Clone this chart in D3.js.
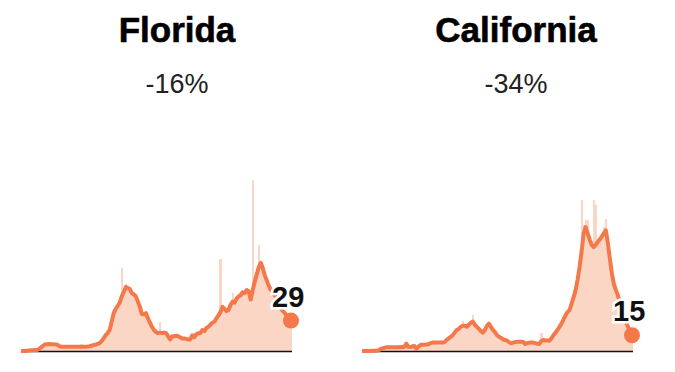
<!DOCTYPE html>
<html>
<head>
<meta charset="utf-8">
<script src="https://cdn.jsdelivr.net/npm/d3@7"></script>
<style>
  body { margin: 0; background: #fff; }
  svg { display: block; font-family: "Liberation Sans", Arial, sans-serif; }
</style>
</head>
<body>
<div id="chart"></div>
<script>
// states shown, with the change label and the last value
var states = ["Florida", "California"];
var changeLabels = ["-16%", "-34%"];
var lastLabels = ["29", "15"];

// daily cases per 100k (pale bars)
var floridaDaily = [
  0,0,0,0,0,1,1,1,1,2,3,5,6,7,6,7,6,6,5,4,4,4,5,4,3,4,4,5,4,4,4,5,4,4,5,
  5,6,6,7,8,10,12,15,18,21,30,38,42,45,48,
  79,55,64,62,58,57,53,54,46,42,33,37,36,30,26,22,20,18,16,28,
  17,19,16,14,10,15,13,15,14,12,12,13,11,12,10,16,12,17,18,16,
  22,18,23,24,26,28,30,32,33,88,44,40,37,41,46,55,45,52,55,52,
  58,54,60,58,48,163,68,76,101,86,80,70,66,62,58,57,52,50,44,42,37,36,32,30,28
];
// 7-day average (orange line)
var floridaAvg = [
  0,0,0,0.3,0.5,0.7,0.8,1,1,2,3.5,5,6.4,6.5,6.6,6.4,6.5,6.3,6,4.5,
  4,4,4,4,4,4,4,4,4,4,4.2,4.1,4,4.2,4.5,
  5,5.7,6,6.8,7.5,9.5,12,15,17,20,28,36,40,43,46,
  52,56,61,60,59,55,54,52,47,42,35,35,36,31,27,23,20,18,17,17.5,
  17,17.5,17,14,11,14,14,14.5,14,13,12,12,11.5,11,11,15,13,16,17,17,
  20,19,22,23,25,27,28,31,34,37,42,40,38,39,44,47,46,50,52,53,
  56,55,58,57,49,58,66,73,80,84,79,72,67,62,58,56,53,50,45,41,38,36,33,31,29
];

var californiaDaily = [
  0,0,0,0,0,0,0,1,1,2,3,3,4,3,4,4,3,4,4,3,4,4,9,4,4,5,5,2,4,6,6,7,6,7,8,
  8,9,8,8,9,8,8,9,11,13,14,16,19,22,22,29,25,24,26,28,
  34,26,24,21,19,18,22,25,28,22,20,18,15,13,13,11,11,10,9,8,
  9,8,9,9,10,9,7,8,8,9,8,8,7,7,17,11,10,11,10,13,
  16,18,21,24,27,32,36,38,42,48,54,62,72,86,144,120,125,125,110,105,
  144,139,108,110,112,118,126,106,90,76,66,60,55,48,41,35,30,25,20,16
];
var californiaAvg = [
  0,0,0,0,0,0.2,0.3,0.3,0.5,1.6,2.5,3,3.5,3.5,3.6,3.5,3.6,3.5,3.6,3.7,
  3.6,4,7,4,3.8,4.5,4.8,2,4,5.7,6,6,6.2,6.4,7.5,
  8,8,8,8.2,8,8,8.5,10.5,12,13.5,15,17.5,20,21,23,
  24,24,23,25,27,28,25,23,21,19,17.5,20,24,26,23,20,18,15,13.6,12.5,
  11,10.5,9.8,8.5,7.3,8,8.5,8.7,8.8,8.9,8.5,6.7,7.5,7.8,8,8,7.5,7,6.7,9.5,
  10.5,10,10,9.8,12,15,17.4,20,23,26,30,34,37,39,45,51,58,68,80,95,
  112,118,112,106,101,99,101,104,106,109,112,115,103,88,74,64,58,53,46,39,33,28,23,19,15
];

var dailySeries = [floridaDaily, californiaDaily];
var avgSeries = [floridaAvg, californiaAvg];

var W = 675, H = 372;
var lineColor = "#f4784a";
var barColor = "#fcd6c5";

// where each small panel sits
var panelLeft = [21, 362];
var titleX = [177, 516];
var plotW = 270;
var baseY = 351;

var svg = d3.select("#chart").append("svg")
  .attr("width", W)
  .attr("height", H);

var x = d3.scaleLinear().domain([0, floridaAvg.length - 1]).range([0, plotW]);
var y = d3.scaleLinear().domain([0, 100]).range([baseY, baseY - 105]);
var step = x(1) - x(0);

states.forEach(function(name, k) {
  var g = svg.append("g").attr("transform", "translate(" + panelLeft[k] + ",0)");
  var daily = dailySeries[k];
  var avg = avgSeries[k];

  // titles
  svg.append("text")
    .attr("x", titleX[k]).attr("y", 42)
    .attr("text-anchor", "middle")
    .style("font-weight", "bold")
    .style("font-size", "35px")
    .style("fill", "#000")
    .style("stroke", "#000")
    .style("stroke-width", 0.6)
    .text(name);

  svg.append("text")
    .attr("x", titleX[k]).attr("y", 93)
    .attr("text-anchor", "middle")
    .style("font-size", "27px")
    .style("fill", "#222")
    .text(changeLabels[k]);

  // daily bars
  g.selectAll("rect.bar")
    .data(daily)
    .enter().append("rect")
    .attr("class", "bar")
    .attr("x", function(d, i) { return x(i) - step / 2; })
    .attr("width", step + 0.4)
    .attr("y", function(d) { return y(d); })
    .attr("height", function(d) { return baseY - y(d); })
    .style("fill", barColor)
    .style("shape-rendering", "crispEdges");

  // baseline
  g.append("line")
    .attr("x1", x(0)).attr("x2", x(avg.length - 1) + 1)
    .attr("y1", baseY + 0.5).attr("y2", baseY + 0.5)
    .style("stroke", "#111")
    .style("stroke-width", 1.5);

  var line = d3.line()
    .x(function(d, i) { return x(i); })
    .y(function(d) { return y(d); });

  g.append("path")
    .datum(avg)
    .attr("d", line)
    .style("fill", "none")
    .style("stroke", lineColor)
    .style("stroke-width", 4)
    .style("stroke-linejoin", "round");

  var last = avg.length - 1;
  g.append("circle")
    .attr("cx", x(last)).attr("cy", y(avg[last]))
    .attr("r", 8)
    .style("fill", lineColor);

  // last value label with white halo
  g.append("text")
    .attr("x", x(last) - 19)
    .attr("y", y(avg[last]) - 14)
    .style("font-weight", "bold")
    .style("font-size", "29px")
    .style("fill", "#111")
    .style("stroke", "#fff")
    .style("stroke-width", 5)
    .style("paint-order", "stroke")
    .text(lastLabels[k]);
});
</script>
</body>
</html>
